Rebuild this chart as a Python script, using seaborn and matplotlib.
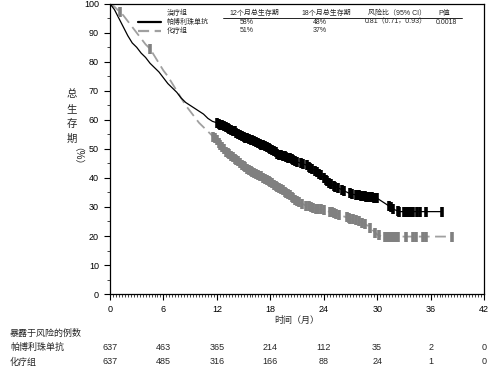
import numpy as np
import pandas as pd
import matplotlib
matplotlib.use("Agg")
import matplotlib.pyplot as plt
from matplotlib.ticker import MultipleLocator
import seaborn as sns

# curve values (months, % surviving)
pembro_t = [0, 0.5, 1.0, 1.5, 2.0, 2.5, 3.0, 3.5, 4.0, 4.5, 5.0, 5.5, 6.0, 6.5, 7.0, 7.5,
            8.0, 8.5, 9.0, 9.5, 10.0, 10.5, 11.0, 11.5, 12.0, 13.0, 14.0, 15.0, 16.0, 17.0,
            18.0, 19.0, 20.0, 21.0, 22.0, 23.0, 23.5, 24.0, 24.5, 25.0, 26.0, 27.0, 28.0,
            29.0, 30.0, 30.5, 31.0, 31.5, 32.0, 32.5, 37.3]
pembro_s = [100, 98, 95, 92, 89, 86.5, 85, 83, 81.5, 79.5, 78, 76.5, 74.5, 72.5, 71, 69.5,
            67.5, 66, 65, 64, 63, 62, 60.5, 59.5, 59, 57.5, 56, 54, 53, 51.5,
            50, 48, 47, 45.5, 44.5, 42.5, 41.5, 40, 38.5, 37.5, 36, 34.5, 34,
            33.5, 33, 32, 31, 30, 29, 28.4, 28.4]
chemo_t = [0, 0.5, 1.0, 1.5, 2.0, 2.5, 3.0, 3.5, 4.0, 4.5, 5.0, 5.5, 6.0, 6.5, 7.0, 7.5,
           8.0, 8.5, 9.0, 9.5, 10.0, 10.5, 11.0, 11.5, 12.0, 12.5, 13.0, 13.5, 14.0, 14.5,
           15.0, 16.0, 17.0, 18.0, 19.0, 20.0, 21.0, 22.0, 23.0, 24.0, 25.0, 26.0, 27.0,
           28.0, 29.0, 29.5, 30.0, 30.5, 38.4]
chemo_s = [100, 99, 97.5, 96, 94, 92, 90, 88, 86, 84.5, 82, 79.5, 77, 75, 72.5, 70,
           67.5, 65, 63, 61, 59, 57.5, 56, 54.5, 53, 51, 49, 48, 46.5, 45.5,
           44, 42, 40.5, 38.5, 36.5, 34.5, 32, 30.5, 29.5, 29, 28, 27, 26,
           25, 23.5, 22, 20.5, 19.8, 19.8]

pembro_censor = [12.0, 12.2, 12.4, 12.6, 12.8, 13.0, 13.2, 13.4, 13.6, 13.8, 14.0, 14.2,
                 14.4, 14.6, 14.8, 15.0, 15.2, 15.4, 15.6, 15.8, 16.0, 16.2, 16.4, 16.6,
                 16.8, 17.0, 17.2, 17.4, 17.6, 17.8, 18.0, 18.2, 18.4, 18.6, 18.8, 19.0,
                 19.2, 19.4, 19.6, 19.8, 20.0, 20.2, 20.4, 20.6, 20.8, 21.0, 21.4, 21.7,
                 22.1, 22.3, 22.5, 22.7, 23.0, 23.2, 23.5, 23.7, 24.0, 24.2, 24.4, 24.6,
                 24.8, 25.1, 25.3, 25.6, 26.0, 26.3, 26.9, 27.2, 27.6, 27.8, 28.0, 28.2,
                 28.4, 28.6, 28.8, 29.0, 29.2, 29.4, 29.6, 29.8, 30.0, 31.3, 31.5, 31.8,
                 32.3, 32.5, 33.0, 33.2, 33.4, 33.6, 33.8, 34.0, 34.5, 34.8, 35.5, 37.3]
chemo_censor = [1.1, 4.5, 11.6, 11.8, 12.0, 12.2, 12.4, 12.6, 12.8, 13.0, 13.2, 13.4, 13.6,
                13.8, 14.0, 14.2, 14.4, 14.6, 14.8, 15.0, 15.2, 15.4, 15.6, 15.8, 16.0,
                16.2, 16.4, 16.6, 16.8, 17.0, 17.2, 17.4, 17.6, 17.8, 18.0, 18.2, 18.4,
                18.6, 18.8, 19.0, 19.2, 19.4, 19.6, 19.8, 20.0, 20.2, 20.4, 20.6, 20.8,
                21.0, 21.2, 21.6, 22.0, 22.3, 22.6, 22.8, 23.1, 23.4, 23.7, 24.0, 24.7,
                24.9, 25.1, 25.4, 25.7, 26.6, 26.8, 27.0, 27.3, 27.6, 28.0, 28.3, 28.6,
                29.2, 29.8, 30.2, 30.9, 31.1, 31.3, 31.5, 31.7, 31.9, 32.1, 32.3, 33.2,
                34.0, 34.4, 35.2, 35.5, 38.4]

groups = ["帕博利珠单抗", "化疗组"]
os12 = ["58%", "51%"]
os18 = ["48%", "37%"]
hr_text = "0.81（0.71，0.93）"
p_text = "0.0018"
ylabel_chars = ["总", "生", "存", "期"]
risk_times = [0, 6, 12, 18, 24, 30, 36, 42]
risk_pembro = [637, 463, 365, 214, 112, 35, 2, 0]
risk_chemo = [637, 485, 316, 166, 88, 24, 1, 0]

sns.set_theme(style="ticks")
plt.rcParams["font.family"] = ["Liberation Sans", "Noto Sans CJK SC", "DejaVu Sans"]

fig = plt.figure(figsize=(4.99, 3.77), dpi=100)
ax = fig.add_axes([0.2204, 0.22, 0.7496, 0.77])

black = "#000000"
grey_line = "#a0a0a0"
grey_mark = "#808080"

df_p = pd.DataFrame({"t": pembro_t, "s": pembro_s})
df_c = pd.DataFrame({"t": chemo_t, "s": chemo_s})
sns.lineplot(data=df_c, x="t", y="s", ax=ax, color=grey_line, lw=1.3,
             estimator=None, sort=False, linestyle=(0, (6, 3)))
sns.lineplot(data=df_p, x="t", y="s", ax=ax, color=black, lw=0.9,
             estimator=None, sort=False)

# censor marks sit on the curves
ax.plot(chemo_censor, np.interp(chemo_censor, chemo_t, chemo_s), ls="none",
        marker="|", ms=6.5, mew=2.6, color=grey_mark)
ax.plot(pembro_censor, np.interp(pembro_censor, pembro_t, pembro_s), ls="none",
        marker="|", ms=6.5, mew=2.6, color=black)

ax.set_xlim(0, 42)
ax.set_ylim(0, 100)
ax.xaxis.set_major_locator(MultipleLocator(6))
ax.xaxis.set_minor_locator(MultipleLocator(1 / 3))
ax.yaxis.set_major_locator(MultipleLocator(10))
ax.yaxis.set_minor_locator(MultipleLocator(5))
ax.tick_params(axis="both", which="major", direction="out", length=4, width=0.8,
               labelsize=6.5, colors="black", pad=4)
ax.tick_params(axis="both", which="minor", direction="out", length=2.5, width=0.6)
for sp in ax.spines.values():
    sp.set_visible(True)
    sp.set_color("black")
    sp.set_linewidth(0.9)
ax.set_xlabel("")
ax.set_ylabel("")

def px(x, y):
    return x / 499, 1 - y / 377

# axis titles
for i, ch in enumerate(ylabel_chars):
    fig.text(*px(72, 94 + 15 * i), ch, ha="center", va="center", fontsize=7.5)
fig.text(*px(72, 161), "（%）", ha="center", va="center", fontsize=7, rotation=-90)
fig.text(*px(297, 320), "时间（月）", ha="center", va="center", fontsize=6.5)

# number at risk table
fig.text(*px(10, 333), "暴露于风险的例数", ha="left", va="center", fontsize=6.5)
for row, (name, vals) in enumerate(zip(groups, [risk_pembro, risk_chemo])):
    yy = 347 + 15 * row
    fig.text(*px(10, yy), name, ha="left", va="center", fontsize=6.5)
    for tm, v in zip(risk_times, vals):
        fig.text(*px(110 + tm * (374 / 42), yy), str(v), ha="center", va="center",
                 fontsize=6.5)

# legend / summary table inside the plot
tfs = 5
fig.text(*px(167, 13), "治疗组", ha="left", va="center", fontsize=tfs)
fig.text(*px(254, 13), "12个月总生存期", ha="center", va="center", fontsize=tfs)
fig.text(*px(326, 13), "18个月总生存期", ha="center", va="center", fontsize=tfs)
fig.text(*px(397, 13), "风险比（95% CI）", ha="center", va="center", fontsize=tfs)
fig.text(*px(444, 13), "P值", ha="center", va="center", fontsize=tfs)
fig.add_artist(plt.Line2D([223 / 499, 462 / 499], [1 - 17.5 / 377] * 2,
                          color="black", lw=0.6))
legend_styles = [dict(color=black, lw=1.6, ls="-"),
                 dict(color=grey_line, lw=1.6, ls=(0, (5, 2.5)))]
for row, name in enumerate(groups):
    yy = 22 + 9 * row
    fig.add_artist(plt.Line2D([138 / 499, 161 / 499], [1 - yy / 377] * 2,
                              **legend_styles[row]))
    fig.text(*px(167, yy), name, ha="left", va="center", fontsize=tfs)
    fig.text(*px(247, yy), os12[row], ha="center", va="center", fontsize=tfs)
    fig.text(*px(320, yy), os18[row], ha="center", va="center", fontsize=tfs)
fig.text(*px(396, 22), hr_text, ha="center", va="center", fontsize=tfs)
fig.text(*px(446, 22), p_text, ha="center", va="center", fontsize=tfs)

fig.savefig("out.png", dpi=100)
